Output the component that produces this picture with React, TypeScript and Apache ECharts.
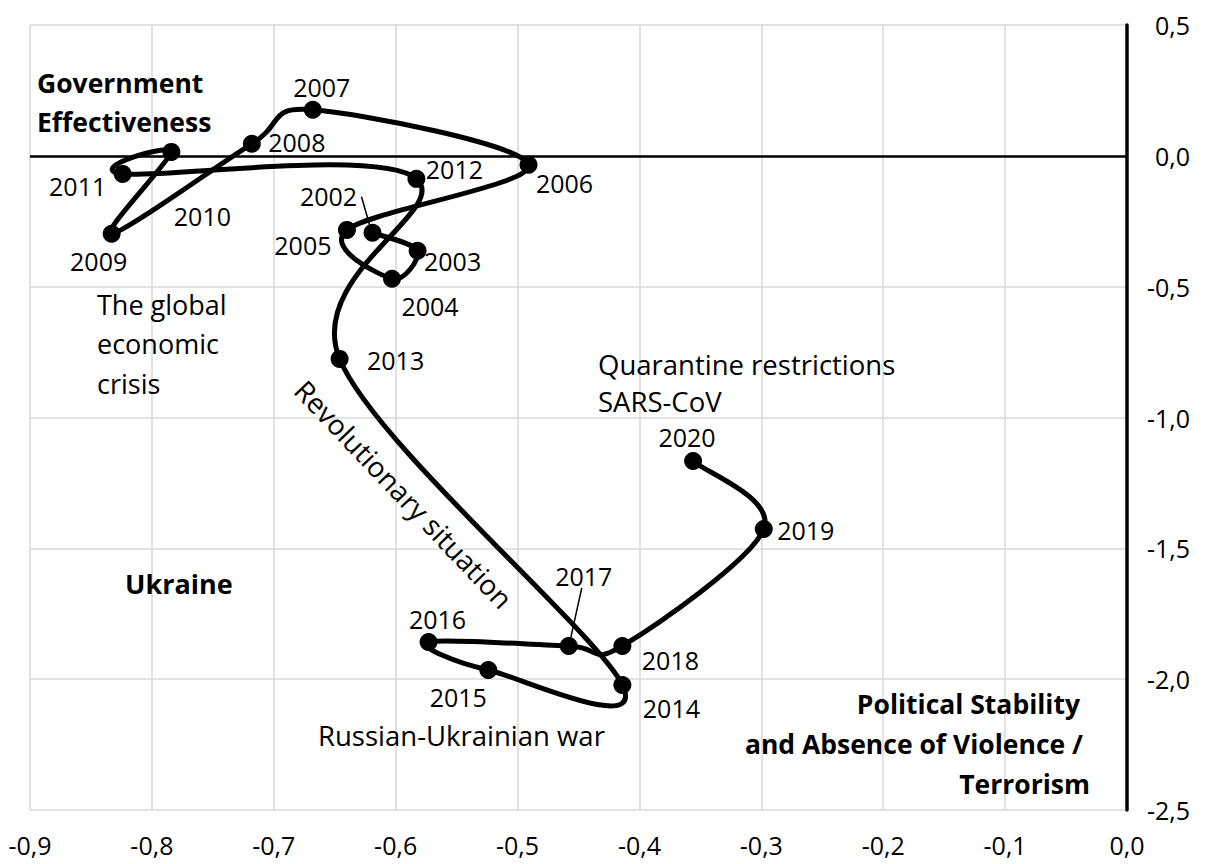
import React, { useEffect, useRef } from "react";
import * as echarts from "echarts";

// Ukraine: Political Stability (x) vs Government Effectiveness (y), 2002-2020
const years = [
  "2002", "2003", "2004", "2005", "2006", "2007", "2008", "2009", "2010", "2011",
  "2012", "2013", "2014", "2015", "2016", "2017", "2018", "2019", "2020",
];
const politicalStability = [
  -0.619, -0.582, -0.603, -0.64, -0.491, -0.668, -0.718, -0.833, -0.784, -0.824,
  -0.583, -0.646, -0.414, -0.524, -0.573, -0.458, -0.414, -0.298, -0.356,
];
const governmentEffectiveness = [
  -0.294, -0.363, -0.47, -0.283, -0.034, 0.176, 0.046, -0.298, 0.015, -0.069,
  -0.088, -0.776, -2.022, -1.965, -1.858, -1.873, -1.873, -1.426, -1.166,
];

// axis ranges / ticks
const xMin = -0.9;
const xMax = 0;
const xStep = 0.1;
const yMin = -2.5;
const yMax = 0.5;
const yStep = 0.5;

// label placement (pixel offsets from each point)
const labelOffsets: [number, number][] = [
  [-44, -37], [35, 10], [38, 27], [-44, 15], [36, 18], [9, -23], [45, -2],
  [-13, 27], [31, 64], [-45, 12], [38, -10], [56, 1], [49, 23], [-30, 27],
  [9, -23], [15, -70], [48, 14], [42, 1], [-6, -24],
];
// leader lines: [year index, fromOffset, toOffset]
const leaders: [number, [number, number], [number, number]][] = [
  [0, [-11, -36], [-3, -8]],
  [15, [13, -58], [2, -8]],
];

const FONT = '"Open Sans", sans-serif';
const fmt = (v: number) => v.toFixed(1).replace(".", ",");

export default function App() {
  const ref = useRef<HTMLDivElement>(null);

  useEffect(() => {
    if (!ref.current) return;
    const chart = echarts.init(ref.current, undefined, { renderer: "svg" });

    const pts = years.map((_, i) => [politicalStability[i], governmentEffectiveness[i]]);
    const n = pts.length;

    const scatterData = years.map((yr, i) => ({
      name: yr,
      value: pts[i],
      label: { offset: labelOffsets[i] },
    }));

    // Catmull-Rom style smoothing (as in spreadsheet "smoothed line" scatter)
    const renderSegment = (params: any, api: any) => {
      const i = params.dataIndex;
      if (i >= n - 1) return { type: "group", children: [] };
      const P = (j: number) => api.coord(pts[Math.max(0, Math.min(n - 1, j))]);
      const p0 = P(i - 1);
      const p1 = P(i);
      const p2 = P(i + 1);
      const p3 = P(i + 2);
      const t = 1 / 6;
      return {
        type: "bezierCurve",
        shape: {
          x1: p1[0],
          y1: p1[1],
          x2: p2[0],
          y2: p2[1],
          cpx1: p1[0] + (p2[0] - p0[0]) * t,
          cpy1: p1[1] + (p2[1] - p0[1]) * t,
          cpx2: p2[0] - (p3[0] - p1[0]) * t,
          cpy2: p2[1] - (p3[1] - p1[1]) * t,
        },
        style: { stroke: "#000", lineWidth: 5, fill: "none", lineCap: "round" },
      };
    };

    const textEl = (
      text: string,
      x: number,
      y: number,
      opts: { bold?: boolean; size?: number; align?: string; lh?: number; vAlign?: string } = {}
    ) => ({
      type: "text",
      x,
      y,
      silent: true,
      z: 50,
      style: {
        text,
        x: 0,
        y: 0,
        fill: "#000",
        font: `${opts.bold ? "bold " : ""}${opts.size || 27}px ${FONT}`,
        textAlign: opts.align || "left",
        textVerticalAlign: opts.vAlign || "top",
        lineHeight: opts.lh || 39,
      },
    });

    const option: any = {
      animation: false,
      backgroundColor: "#fff",
      grid: { left: 30, right: 79, top: 25, bottom: 54, containLabel: false },
      xAxis: {
        type: "value",
        min: xMin,
        max: xMax,
        interval: xStep,
        axisLine: { show: false },
        axisTick: { show: false },
        splitLine: { show: true, lineStyle: { color: "#d9d9d9", width: 1.5 } },
        axisLabel: {
          formatter: fmt,
          fontSize: 25,
          fontFamily: FONT,
          color: "#000",
          margin: 22,
        },
      },
      yAxis: {
        type: "value",
        position: "right",
        min: yMin,
        max: yMax,
        interval: yStep,
        axisLine: { show: true, onZero: false, lineStyle: { color: "#000", width: 3.5 } },
        axisTick: { show: false },
        splitLine: { show: true, lineStyle: { color: "#d9d9d9", width: 1.5 } },
        axisLabel: {
          formatter: fmt,
          fontSize: 25,
          fontFamily: FONT,
          color: "#000",
          margin: 63,
          align: "right",
        },
      },
      series: [
        {
          type: "custom",
          data: pts,
          encode: { x: 0, y: 1 },
          renderItem: renderSegment,
          silent: true,
          z: 5,
        },
        {
          type: "scatter",
          data: scatterData,
          symbol: "circle",
          symbolSize: 18,
          itemStyle: { color: "#000", opacity: 1 },
          label: {
            show: true,
            position: "inside",
            formatter: (p: any) => p.name,
            fontSize: 25,
            fontFamily: FONT,
            color: "#000",
            align: "center",
            verticalAlign: "middle",
          },
          markLine: {
            silent: true,
            symbol: ["none", "none"],
            label: { show: false },
            lineStyle: { color: "#000", width: 2.5, type: "solid" },
            data: [{ yAxis: 0 }],
          },
          z: 10,
        },
      ],
    };
    chart.setOption(option);

    const leaderEls = leaders.map(([idx, from, to]) => {
      const p = chart.convertToPixel({ gridIndex: 0 }, pts[idx]) as number[];
      return {
        type: "line",
        silent: true,
        z: 50,
        shape: { x1: p[0] + from[0], y1: p[1] + from[1], x2: p[0] + to[0], y2: p[1] + to[1] },
        style: { stroke: "#000", lineWidth: 1.5 },
      };
    });

    const revo: any = textEl("Revolutionary situation", 404, 494, {
      align: "center",
      vAlign: "middle",
      size: 28,
    });
    revo.rotation = (-46.5 * Math.PI) / 180;

    chart.setOption({
      graphic: [
        ...leaderEls,
        textEl("Government\nEffectiveness", 37, 63, { bold: true, size: 26.5 }),
        textEl("The global\neconomic\ncrisis", 97, 284.5, { size: 27, lh: 39.5 }),
        textEl("Quarantine restrictions\nSARS-CoV", 598, 345.5, { size: 27.5, lh: 37 }),
        textEl("Russian-Ukrainian war", 318, 735, { size: 27.5, vAlign: "middle" }),
        textEl("Ukraine", 125, 583, { bold: true, size: 27, vAlign: "middle" }),
        textEl("Political Stability", 1080, 704, { bold: true, size: 26.5, align: "right", vAlign: "middle" }),
        textEl("and Absence of Violence /", 1083, 744, { bold: true, size: 26.5, align: "right", vAlign: "middle" }),
        textEl("Terrorism", 1090, 784, { bold: true, size: 26.5, align: "right", vAlign: "middle" }),
        revo,
      ],
    });

    return () => chart.dispose();
  }, []);

  return (
    <div
      ref={ref}
      style={{ position: "absolute", left: 0, top: 0, width: 1206, height: 864, background: "#fff" }}
    />
  );
}
